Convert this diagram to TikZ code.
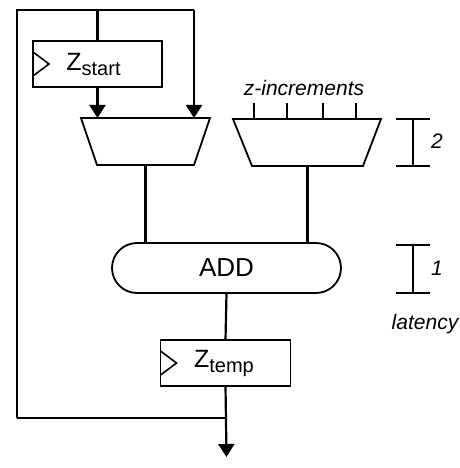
\documentclass[tikz,border=0pt]{standalone}
\usepackage{fontspec}
\setmainfont{Liberation Sans}
\usetikzlibrary{shapes.misc,arrows.meta,calc}
\begin{document}
\begin{tikzpicture}[x=1pt,y=-1pt,
  wire/.style={line width=2.2pt},
  arr/.style={wire,-{Triangle[length=13pt,width=16pt]}},
  reg/.style={draw,line width=1.8pt,minimum width=129pt,minimum height=46pt,inner sep=0pt,outer sep=0pt,
    font=\fontsize{25}{28}\selectfont,
    path picture={\draw[line width=1.6pt] ([yshift=12pt]path picture bounding box.west) -- ++(16pt,-12pt) -- ++(-16pt,-12pt);}},
  muxline/.style={line width=1.8pt,line join=miter},
  addbox/.style={draw,line width=1.8pt,rounded rectangle,minimum width=229pt,minimum height=50pt,
    inner sep=0pt,outer sep=0pt,font=\fontsize{26}{30}\selectfont},
  lab/.style={font=\fontsize{21}{24}\selectfont\itshape,inner sep=0pt},
  bar/.style={line width=1.8pt}]
\useasboundingbox (0,0) rectangle (459,468);

% nodes
\node[reg] (zs) at (97.5,64) {\hspace{-8pt}Z\raisebox{-5pt}{\fontsize{20}{22}\selectfont start}};
\node[addbox] (add) at (226.5,268) {ADD};
\node[reg,minimum width=130pt] (zt) at (225.5,363) {\hspace{-3pt}Z\raisebox{-5pt}{\fontsize{20}{22}\selectfont temp}};
\node[lab] (zinc) at (304,88) {z-increments};
\node[lab] (two) at (437,141) {2};
\node[lab] (one) at (437,268) {1};
\node[lab] (lat) at (425,324) {latency};

% multiplexers (trapezoids)
\coordinate (m1tl) at (81,118);  \coordinate (m1tr) at (210,118);
\coordinate (m1br) at (194,165); \coordinate (m1bl) at (97,165);
\coordinate (m1a) at (97.5,118); \coordinate (m1b) at (194,118);
\coordinate (m1o) at (145.5,165);
\draw[muxline] (m1tl) -- (m1tr) -- (m1br) -- (m1bl) -- cycle;
\coordinate (m2tl) at (233,119);  \coordinate (m2tr) at (381,119);
\coordinate (m2br) at (363,166); \coordinate (m2bl) at (252,166);
\coordinate (m2o) at (307.5,166);
\draw[muxline] (m2tl) -- (m2tr) -- (m2br) -- (m2bl) -- cycle;

% coordinates
\coordinate (tl) at (17,10);
\coordinate (tm) at (97.5,10);
\coordinate (tr) at (194,10);
\coordinate (bl) at (17,418);
\coordinate (bm) at (226.5,418);
\coordinate (out) at (226.5,457);
\coordinate (a1) at (145.5,243);
\coordinate (a2) at (307.5,243);

% wires
\draw[wire,line join=miter] (bl) -- (tl) -- (tr);
\draw[arr] (tr) -- (m1b);
\draw[wire] (tm) -- (zs.north);
\draw[arr] (zs.south) -- (m1a);
\draw[wire] (m1o) -- (a1);
\draw[wire] (m2o) -- (a2);
\draw[wire] (add.south) -- (zt.north);
\draw[arr] (zt.south) -- (out);
\draw[wire] (bm) -- (bl);

% ticks
\foreach \x in {254,287,323,356} \draw[wire] (\x,103) -- (\x,119);

% latency bars
\draw[bar] (396,119) -- (430,119) (413,119) -- (413,166) (396,166) -- (430,166);
\draw[bar] (396,245) -- (430,245) (413,245) -- (413,293) (396,293) -- (430,293);
\end{tikzpicture}
\end{document}
